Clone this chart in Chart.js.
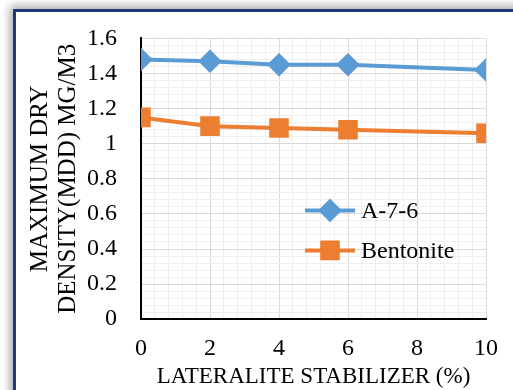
<!DOCTYPE html>
<html><head><meta charset="utf-8">
<script src="https://cdn.jsdelivr.net/npm/chart.js@4/dist/chart.umd.min.js"></script>
<style>
html,body{margin:0;padding:0;background:#fff;overflow:hidden;width:513px;height:390px;}
#frame{position:absolute;left:13px;top:9px;width:620px;height:520px;background:#fff;border-left:3px solid #1f3a7c;border-top:3px solid #1f3a7c;box-shadow:0 0 9px 3px rgba(0,0,0,0.35);}
#wrap{position:absolute;left:0;top:0;width:513px;height:390px;}
</style></head><body>
<div id="frame"></div>
<div id="wrap"><canvas id="c" width="513" height="390"></canvas></div>
<script>
const stabilizer = [0, 2, 4, 6, 10];
const a76 = [1.48, 1.47, 1.45, 1.45, 1.42];
const bentonite = [1.15, 1.10, 1.09, 1.08, 1.06];
const seriesNames = ['A-7-6', 'Bentonite'];
const xTitle = 'LATERALITE STABILIZER (%)';
const yTitle = ['MAXIMUM DRY', 'DENSITY(MDD) MG/M3'];

const FONT = 'Liberation Serif';
const isMajor = (v, step) => { const r = v / step; return Math.abs(r - Math.round(r)) < 1e-6; };

const legendPlugin = {
  id: 'inLegend',
  afterDatasetsDraw(chart) {
    const ctx = chart.ctx, a = chart.chartArea;
    chart.data.datasets.forEach((ds, i) => {
      const y = a.top + 172 + i * 40;
      const x0 = a.left + 164, x1 = a.left + 214, xm = (x0 + x1) / 2;
      ctx.save();
      ctx.strokeStyle = ds.borderColor;
      ctx.lineWidth = ds.borderWidth;
      ctx.beginPath(); ctx.moveTo(x0, y); ctx.lineTo(x1, y); ctx.stroke();
      ctx.fillStyle = ds.pointBackgroundColor;
      ctx.strokeStyle = ds.pointBorderColor;
      Chart.helpers.drawPoint(ctx, {pointStyle: ds.pointStyle, radius: ds.pointRadius, rotation: 0, borderWidth: 1}, xm, y);
      ctx.fillStyle = '#000';
      ctx.font = '24px "' + FONT + '"';
      ctx.textBaseline = 'middle';
      ctx.textAlign = 'left';
      ctx.fillText(ds.label, x1 + 6, y + 1);
      ctx.restore();
    });
  }
};

new Chart(document.getElementById('c'), {
  type: 'line',
  data: {
    datasets: [
      { label: seriesNames[0], data: stabilizer.map((x, i) => ({x, y: a76[i]})),
        borderColor: '#5b9bd5', backgroundColor: '#5b9bd5', borderWidth: 4,
        pointStyle: 'rectRot', pointRadius: 9, pointHoverRadius: 9,
        pointBackgroundColor: '#5b9bd5', pointBorderColor: '#5b9bd5', tension: 0 },
      { label: seriesNames[1], data: stabilizer.map((x, i) => ({x, y: bentonite[i]})),
        borderColor: '#ed7d31', backgroundColor: '#ed7d31', borderWidth: 4,
        pointStyle: 'rect', pointRadius: 11, pointHoverRadius: 11,
        pointBackgroundColor: '#ed7d31', pointBorderColor: '#ed7d31', tension: 0 }
    ]
  },
  options: {
    responsive: false, animation: false, devicePixelRatio: 1,
    layout: { padding: { left: 26, top: 13, right: 24, bottom: 2 } },
    plugins: { legend: { display: false }, tooltip: { enabled: false } },
    scales: {
      x: {
        type: 'linear', min: 0, max: 10,
        ticks: { stepSize: 0.4, autoSkip: false, maxRotation: 0, minRotation: 0, padding: 15,
          color: '#000', font: { family: FONT, size: 24, lineHeight: 1.2 },
          callback: v => isMajor(v, 2) ? String(Math.round(v)) : '' },
        grid: { drawTicks: false, lineWidth: 1,
          color: c => isMajor(c.tick.value, 2) ? '#d9d9d9' : '#efefef' },
        border: { display: true, color: '#000', width: 2 },
        title: { display: true, text: xTitle, color: '#000', font: { family: FONT, size: 23, lineHeight: 1 }, padding: { top: -13, bottom: 0 } }
      },
      y: {
        min: 0, max: 1.6,
        ticks: { stepSize: 0.04, autoSkip: false, padding: 24,
          color: '#000', font: { family: FONT, size: 24 },
          callback: v => isMajor(v, 0.2) ? String(+v.toFixed(1)) : '' },
        grid: { drawTicks: false, lineWidth: 1,
          color: c => isMajor(c.tick.value, 0.2) ? '#d9d9d9' : '#efefef' },
        border: { display: true, color: '#000', width: 2 },
        title: { display: true, text: yTitle, color: '#000', font: { family: FONT, size: 25, lineHeight: 1.12 }, padding: { top: 0, bottom: -19 } }
      }
    }
  },
  plugins: [legendPlugin]
});
</script>
</body></html>
